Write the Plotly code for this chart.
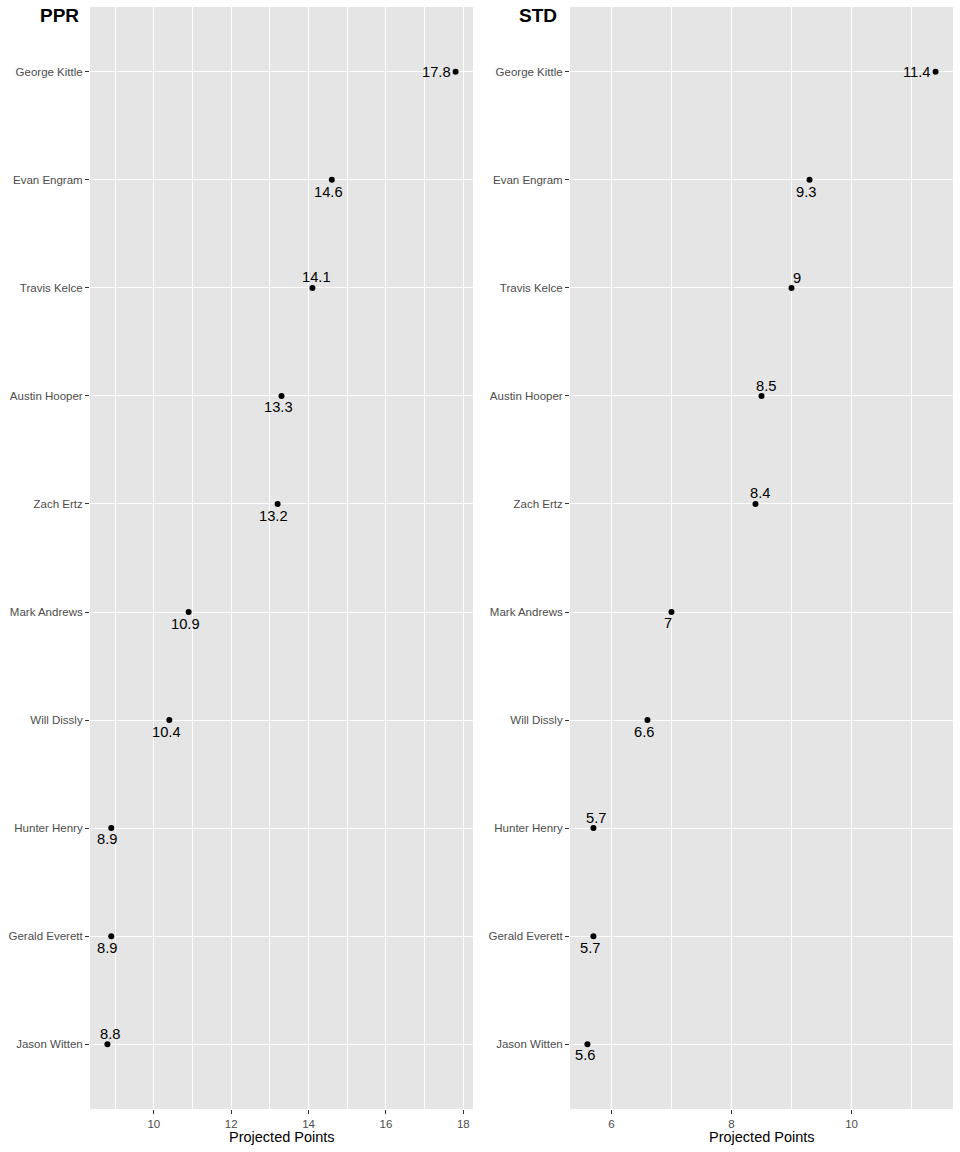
import plotly.graph_objects as go

# ---- data ----
players = ["George Kittle", "Evan Engram", "Travis Kelce", "Austin Hooper", "Zach Ertz",
           "Mark Andrews", "Will Dissly", "Hunter Henry", "Gerald Everett", "Jason Witten"]
ppr_points = [17.8, 14.6, 14.1, 13.3, 13.2, 10.9, 10.4, 8.9, 8.9, 8.8]
std_points = [11.4, 9.3, 9.0, 8.5, 8.4, 7.0, 6.6, 5.7, 5.7, 5.6]
ppr_ticks = [10, 12, 14, 16, 18]
std_ticks = [6, 8, 10]
panel_titles = ["PPR", "STD"]
x_title = "Projected Points"

# ---- label placement (pixel offsets, mimicking ggrepel) ----
ppr_label_shift = [(-19, 0), (-3, -12), (4, 11), (-3, -11), (-4, -12),
                   (-3, -12), (-3, -12), (-4, -11), (-4, -12), (3, 10)]
std_label_shift = [(-19, 0), (-4, -12), (5, 10), (4, 10), (4, 11),
                   (-3, -11), (-3, -12), (3, 10), (-3, -12), (-2, -11)]

W, H = 960, 1152
FONT = "Liberation Sans, Arial, Helvetica, sans-serif"
PANEL_BG = "#E5E5E5"
TICK_COL = "#4D4D4D"

panels = [
    dict(vals=ppr_points, ticks=ppr_ticks, shifts=ppr_label_shift, title=panel_titles[0],
         xa="x", ya="y", dom=(90 / W, 473 / W), title_x=38 / W),
    dict(vals=std_points, ticks=std_ticks, shifts=std_label_shift, title=panel_titles[1],
         xa="x2", ya="y2", dom=(570 / W, 953 / W), title_x=517 / W),
]

ydom = ((H - 1109) / H, (H - 7) / H)

fig = go.Figure()
annotations = []
layout_axes = {}

for i, p in enumerate(panels):
    vals = p["vals"]
    fig.add_trace(go.Scatter(
        x=vals, y=players, mode="markers",
        marker=dict(color="black", size=6),
        xaxis=p["xa"], yaxis=p["ya"], hoverinfo="skip", showlegend=False,
    ))
    for v, name, (dx, dy) in zip(vals, players, p["shifts"]):
        annotations.append(dict(
            x=v, y=name, xref=p["xa"], yref=p["ya"], text=f"{v:g}",
            showarrow=False, xanchor="center", yanchor="middle",
            xshift=dx, yshift=dy, font=dict(family=FONT, size=14.7, color="black"),
        ))
    lo, hi = min(vals), max(vals)
    pad = 0.05 * (hi - lo)
    suffix = "" if i == 0 else "2"
    layout_axes["xaxis" + suffix] = dict(
        domain=list(p["dom"]), anchor=p["ya"], range=[lo - pad, hi + pad],
        tickvals=p["ticks"], ticktext=[str(t) for t in p["ticks"]],
        ticks="outside", ticklen=4, tickwidth=1.1, tickcolor="#333333",
        tickfont=dict(family=FONT, size=11.5, color=TICK_COL),
        showgrid=True, gridcolor="white", gridwidth=1.1,
        minor=dict(dtick=1, tick0=0, showgrid=True, gridcolor="white", gridwidth=0.55, ticks=""),
        zeroline=False, showline=False, fixedrange=True,
    )
    layout_axes["yaxis" + suffix] = dict(
        domain=list(ydom), anchor=p["xa"], type="category",
        categoryorder="array", categoryarray=players,
        range=[len(players) - 1 + 0.6, -0.6],
        ticks="outside", ticklen=4, tickwidth=1.1, tickcolor="#333333",
        tickfont=dict(family=FONT, size=11.5, color=TICK_COL),
        showgrid=True, gridcolor="white", gridwidth=1.1,
        zeroline=False, showline=False, fixedrange=True,
    )
    # panel title
    annotations.append(dict(
        x=p["title_x"], y=(H - 15) / H, xref="paper", yref="paper", text=f"<b>{p['title']}</b>",
        showarrow=False, xanchor="left", yanchor="middle",
        font=dict(family=FONT, size=19, color="black"),
    ))
    # x axis title
    annotations.append(dict(
        x=(p["dom"][0] + p["dom"][1]) / 2, y=(H - 1137) / H, xref="paper", yref="paper",
        text=x_title, showarrow=False, xanchor="center", yanchor="middle",
        font=dict(family=FONT, size=14.5, color="black"),
    ))

shapes = [
    dict(type="rect", xref=f"{p['xa']} domain", yref=f"{p['ya']} domain",
         x0=0, x1=1, y0=0, y1=1, fillcolor=PANEL_BG, line=dict(width=0), layer="below")
    for p in panels
]

fig.update_layout(
    width=W, height=H, margin=dict(l=0, r=0, t=0, b=0),
    paper_bgcolor="white", plot_bgcolor=PANEL_BG,
    font=dict(family=FONT), annotations=annotations, shapes=shapes,
    showlegend=False, **layout_axes,
)

fig.write_html(
    "out.html",
    config={"displayModeBar": False},
    post_script="document.body.style.margin='0';document.body.style.overflow='hidden';",
)
